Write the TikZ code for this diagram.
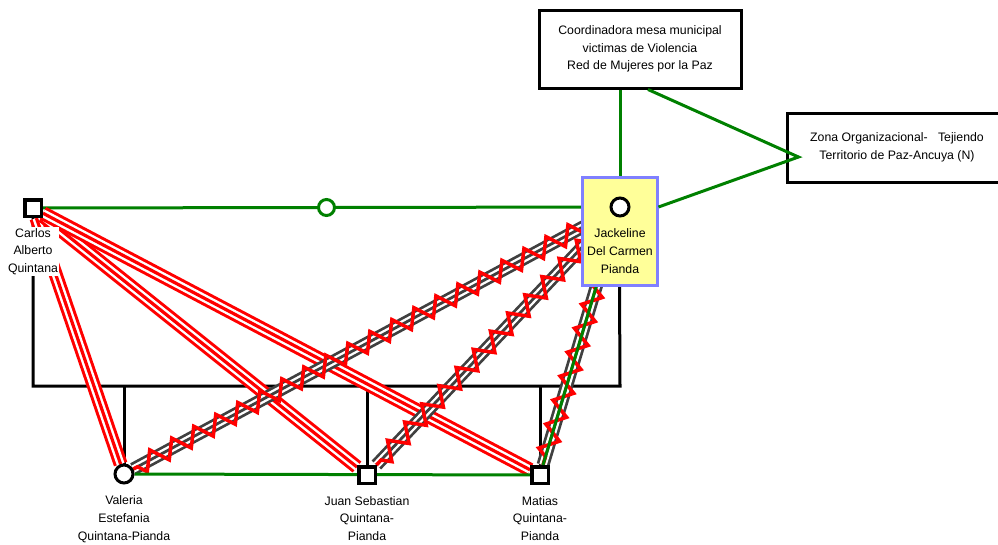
\documentclass[tikz,border=0pt]{standalone}
\usepackage{fontspec}
\setmainfont{Liberation Sans}
\usetikzlibrary{positioning,backgrounds,calc,decorations.pathmorphing}
\definecolor{kingreen}{RGB}{0,128,0}
\definecolor{bandgray}{RGB}{64,64,64}
\definecolor{focusyellow}{RGB}{255,255,153}
\definecolor{focusblue}{RGB}{128,128,255}
\newcommand{\genofont}{\fontsize{12.3}{17.7}\selectfont}
\tikzset{%
	male/.style      = {draw, rectangle, line width=3.5pt, fill=white, minimum size=16.5pt, inner sep=0pt},
	female/.style    = {draw, circle, line width=3pt, fill=white, minimum size=18pt, inner sep=0pt},
	focusbox/.style  = {draw=focusblue, rectangle, line width=3pt, fill=focusyellow, minimum width=75pt, minimum height=108pt},
	tiemark/.style   = {draw=kingreen, circle, line width=3pt, fill=white, minimum size=16pt, inner sep=0pt},
	namelabel/.style = {fill=white, align=center, inner sep=1pt, font=\genofont},
	orgbox/.style    = {draw, rectangle, line width=3pt, fill=white, align=center, font=\genofont},
	kin/.style       = {draw, line width=3pt},
	tie/.style       = {draw=kingreen, line width=3pt},
	hostile/.style   = {draw=red, line width=14pt, postaction={draw=white, line width=8pt}, postaction={draw=red, line width=3.2pt}},
	violent/.style   = {draw=bandgray, line width=13pt, postaction={draw=white, line width=7.5pt}, postaction={draw=bandgray, line width=2.8pt},
	                    postaction={draw=red, line width=3.5pt, decorate, decoration={zigzag, segment length=25pt, amplitude=9pt}}},
}
\begin{document}
\begin{tikzpicture}[x=1pt,y=-1pt]
	\useasboundingbox (0,0) rectangle (998,544);
	
	% family
	\node[male]     (carlos)  at (33,208)    {};
	\node[female]   (valeria) at (124,474)   {};
	\node[male]     (juan)    at (367,475)   {};
	\node[male]     (matias)  at (540,475)   {};
	\node[focusbox] (jackbox) at (619.5,231) {};
	\node[female]   (jack)    at (620,207)   {};
	\node[tiemark]  (couple)  at ($(carlos)!0.5!(jack)$) {};
	
	\node[namelabel, below=9pt of carlos]   (carloslbl)  {Carlos\\Alberto\\Quintana};
	\node[namelabel, below=10pt of valeria] (valerialbl) {Valeria\\Estefania\\Quintana-Pianda};
	\node[namelabel, below=10pt of juan]    (juanlbl)    {Juan Sebastian\\Quintana-\\Pianda};
	\node[namelabel, below=10pt of matias]  (matiaslbl)  {Matias\\Quintana-\\Pianda};
	\node[namelabel, fill=none, below=10pt of jack] (jacklbl) {Jackeline\\Del Carmen\\Pianda};
	
	% organisations
	\node[orgbox, minimum width=202pt, minimum height=78pt] (mesa) at (640,49) {Coordinadora mesa municipal\\victimas de Violencia\\Red de Mujeres por la Paz};
	\node[orgbox, minimum width=220pt, minimum height=69pt] (zona) at (897,147.5) {Zona Organizacional-\ \ \ Tejiendo\\Territorio de Paz-Ancuya (N)};
	
	\coordinate (zonatip) at ($(zona.west)+(13,9.5)$);
	\coordinate (sibline) at (0,386);
	
	\draw[tie] ([xshift=8pt]mesa.south) -- (zonatip) -- (jackbox.east |- jack);
	
	\begin{scope}[on background layer]
		\draw[tie] (carlos) -- (jack);
		\draw[kin] (carlos) |- (sibline -| jack) -- (jackbox.south);
		\foreach \kid in {valeria,juan,matias} \draw[kin] (\kid) -- (\kid |- sibline);
		
		\foreach \kid in {valeria,juan,matias} \draw[hostile] (carlos) -- (\kid);
		\foreach \kid in {valeria,juan,matias} \draw[violent] (jack) -- (\kid);
		
		\draw[tie] (valeria) -- (matias);
		\draw[tie] (matias) -- (jack);
		\draw[tie] (mesa.south -| jack) -- (jack);
	\end{scope}
\end{tikzpicture}
\end{document}
